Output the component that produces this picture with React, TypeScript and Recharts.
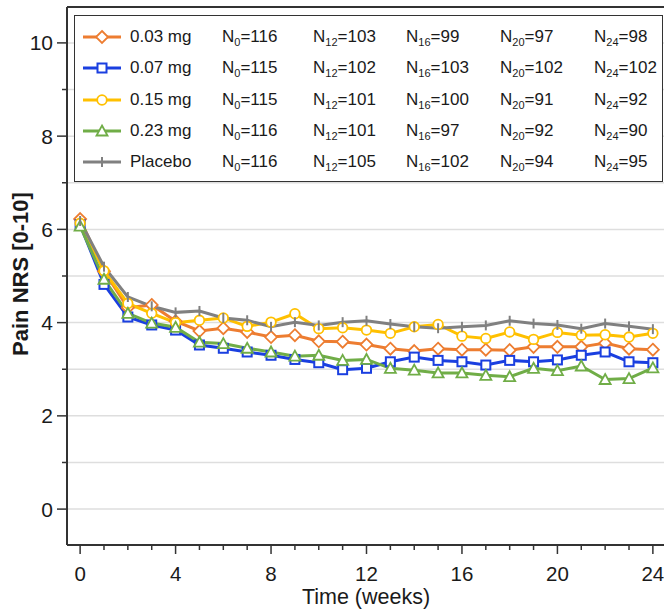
import React from 'react';
import { LineChart, Line, XAxis, YAxis, CartesianGrid, Legend, ReferenceLine } from 'recharts';

const weeks = [0, 1, 2, 3, 4, 5, 6, 7, 8, 9, 10, 11, 12, 13, 14, 15, 16, 17, 18, 19, 20, 21, 22, 23, 24];
const dose003 = [6.22, 5.1, 4.32, 4.38, 4.03, 3.82, 3.88, 3.8, 3.69, 3.73, 3.6, 3.59, 3.53, 3.44, 3.39, 3.44, 3.42, 3.42, 3.41, 3.48, 3.48, 3.48, 3.56, 3.44, 3.42];
const dose007 = [6.1, 4.82, 4.12, 3.95, 3.84, 3.52, 3.45, 3.37, 3.3, 3.21, 3.14, 2.99, 3.02, 3.16, 3.26, 3.19, 3.16, 3.09, 3.19, 3.16, 3.2, 3.3, 3.37, 3.16, 3.14];
const dose015 = [6.13, 5.11, 4.41, 4.2, 4.0, 4.05, 4.1, 3.92, 4.01, 4.19, 3.87, 3.89, 3.84, 3.77, 3.91, 3.96, 3.71, 3.66, 3.8, 3.64, 3.79, 3.73, 3.74, 3.69, 3.77];
const dose023 = [6.07, 4.93, 4.2, 3.99, 3.9, 3.58, 3.55, 3.45, 3.37, 3.28, 3.3, 3.19, 3.21, 3.02, 2.98, 2.92, 2.92, 2.87, 2.84, 3.02, 2.97, 3.07, 2.78, 2.8, 3.03];
const placebo = [6.18, 5.2, 4.55, 4.35, 4.22, 4.25, 4.1, 4.05, 3.91, 4.01, 3.94, 4.01, 4.04, 3.97, 3.91, 3.88, 3.91, 3.94, 4.04, 3.98, 3.95, 3.87, 3.98, 3.92, 3.86];

const seriesKeys = ['d003', 'd007', 'd015', 'd023', 'pbo'];
const seriesNames = ['0.03 mg', '0.07 mg', '0.15 mg', '0.23 mg', 'Placebo'];
const seriesColors = ['#ED7D31', '#1A3FE0', '#FFC000', '#70AD47', '#808080'];
const seriesShapes = ['diamond', 'square', 'circle', 'triangle', 'bar'];
const seriesValues = [dose003, dose007, dose015, dose023, placebo];

const nWeek0 = [116, 115, 115, 116, 116];
const nWeek12 = [103, 102, 101, 101, 105];
const nWeek16 = [99, 103, 100, 97, 102];
const nWeek20 = [97, 102, 91, 92, 94];
const nWeek24 = [98, 102, 92, 90, 95];
const nSubscripts = ['0', '12', '16', '20', '24'];
const nColumns = [nWeek0, nWeek12, nWeek16, nWeek20, nWeek24];

const yTicks = [0, 1, 2, 3, 4, 5, 6, 7, 8, 9, 10];
const yDomain = [-0.77, 10.77];
const xDomain = [-0.55, 24.55];

const data = weeks.map((w, i) => {
  const row: any = { week: w };
  seriesKeys.forEach((k, s) => {
    row[k] = seriesValues[s][i];
  });
  return row;
});

const FONT = "'Liberation Sans', Arial, Helvetica, sans-serif";
const AXIS = '#333333';

function Marker({ shape, cx, cy, color }: any) {
  if (cx == null || cy == null) return null;
  switch (shape) {
    case 'diamond':
      return <polygon points={`${cx},${cy - 6} ${cx + 6},${cy} ${cx},${cy + 6} ${cx - 6},${cy}`} fill="#fff" stroke={color} strokeWidth={1.8} />;
    case 'square':
      return <rect x={cx - 4.5} y={cy - 4.5} width={9} height={9} fill="#fff" stroke={color} strokeWidth={2} />;
    case 'circle':
      return <circle cx={cx} cy={cy} r={4.8} fill="#fff" stroke={color} strokeWidth={1.8} />;
    case 'triangle':
      return <polygon points={`${cx},${cy - 5.5} ${cx + 5.5},${cy + 4.5} ${cx - 5.5},${cy + 4.5}`} fill="#fff" stroke={color} strokeWidth={1.8} />;
    default:
      return <line x1={cx} x2={cx} y1={cy - 5} y2={cy + 5} stroke={color} strokeWidth={2} />;
  }
}

const XTick = (props: any) => {
  const { x, y, payload } = props;
  const v = payload.value;
  const major = v % 4 === 0;
  return (
    <g>
      <line x1={x} x2={x} y1={y} y2={y + (major ? 9 : 5)} stroke={AXIS} strokeWidth={1.5} />
      {major && (
        <text x={x} y={y + 36} textAnchor="middle" fontSize={20.5} fontFamily={FONT} fill="#1a1a1a">
          {v}
        </text>
      )}
    </g>
  );
};

const YTick = (props: any) => {
  const { x, y, payload } = props;
  const v = payload.value;
  const major = v % 2 === 0;
  return (
    <g>
      <line x1={x - (major ? 10 : 5)} x2={x} y1={y} y2={y} stroke={AXIS} strokeWidth={1.5} />
      {major && (
        <text x={x - 14} y={y} dy={7.5} textAnchor="end" fontSize={21} fontFamily={FONT} fill="#1a1a1a">
          {v}
        </text>
      )}
    </g>
  );
};

const YLabel = () => (
  <text x={20} y={274} transform="rotate(-90 20 274)" textAnchor="middle" dominantBaseline="central" fontSize={22} fontWeight="bold" fontFamily={FONT} fill="#1a1a1a">
    Pain NRS [0-10]
  </text>
);

const XLabel = () => (
  <text x={366} y={604} textAnchor="middle" fontSize={21.5} fontFamily={FONT} fill="#1a1a1a">
    Time (weeks)
  </text>
);

const nLefts = [147, 238, 331, 425, 519];

const LegendBox = () => (
  <div
    style={{
      position: 'relative',
      width: '100%',
      height: '100%',
      boxSizing: 'border-box',
      border: `1.5px solid ${AXIS}`,
      background: '#fff',
      fontFamily: FONT,
      fontSize: 17,
      color: '#1a1a1a',
    }}
  >
    {seriesNames.map((name, i) => {
      const top = 21 + i * 31.3 - 11;
      return (
        <div key={name} style={{ position: 'absolute', left: 0, top, height: 22, width: '100%', lineHeight: '22px', whiteSpace: 'nowrap' }}>
          <svg width={38} height={22} style={{ position: 'absolute', left: 8, top: 0 }}>
            <line x1={0} x2={38} y1={11} y2={11} stroke={seriesColors[i]} strokeWidth={3} />
            <Marker shape={seriesShapes[i]} cx={19} cy={11} color={seriesColors[i]} />
          </svg>
          <span style={{ position: 'absolute', left: 55, top: 0 }}>{name}</span>
          {nColumns.map((col, c) => (
            <span key={c} style={{ position: 'absolute', left: nLefts[c], top: 0 }}>
              N
              <span style={{ fontSize: 11, position: 'relative', top: 4 }}>{nSubscripts[c]}</span>={col[i]}
            </span>
          ))}
        </div>
      );
    })}
  </div>
);

export default function App() {
  return (
    <div style={{ position: 'fixed', left: 0, top: 0, width: 664, height: 609, overflow: 'hidden', background: '#fff' }}>
      <LineChart width={670} height={609} data={data} margin={{ top: 7, right: 4, bottom: 0, left: 0 }}>
        <CartesianGrid vertical={false} stroke="#dedede" strokeWidth={1.5} />
        <XAxis
          dataKey="week"
          type="number"
          domain={xDomain}
          allowDataOverflow
          ticks={weeks}
          interval={0}
          height={64}
          tickLine={false}
          tickSize={0}
          tickMargin={0}
          axisLine={{ stroke: AXIS, strokeWidth: 2 }}
          tick={<XTick />}
          label={() => <XLabel />}
        />
        <YAxis
          type="number"
          domain={yDomain}
          allowDataOverflow
          ticks={yTicks}
          interval={0}
          width={67}
          tickLine={false}
          tickSize={0}
          tickMargin={0}
          axisLine={{ stroke: AXIS, strokeWidth: 2 }}
          tick={<YTick />}
          label={() => <YLabel />}
        />
        <ReferenceLine y={yDomain[1]} stroke={AXIS} strokeWidth={2} />
        {seriesKeys.map((k, s) => (
          <Line
            key={k}
            dataKey={k}
            name={seriesNames[s]}
            stroke={seriesColors[s]}
            strokeWidth={3}
            isAnimationActive={false}
            dot={(p: any) => <Marker key={`${k}-${p.index}`} shape={seriesShapes[s]} cx={p.cx} cy={p.cy} color={seriesColors[s]} />}
            activeDot={false}
          />
        ))}
        <Legend
          layout="vertical"
          align="center"
          verticalAlign="middle"
          wrapperStyle={{ left: 74, top: 15, width: 589, height: 167 }}
          content={() => <LegendBox />}
        />
      </LineChart>
    </div>
  );
}
